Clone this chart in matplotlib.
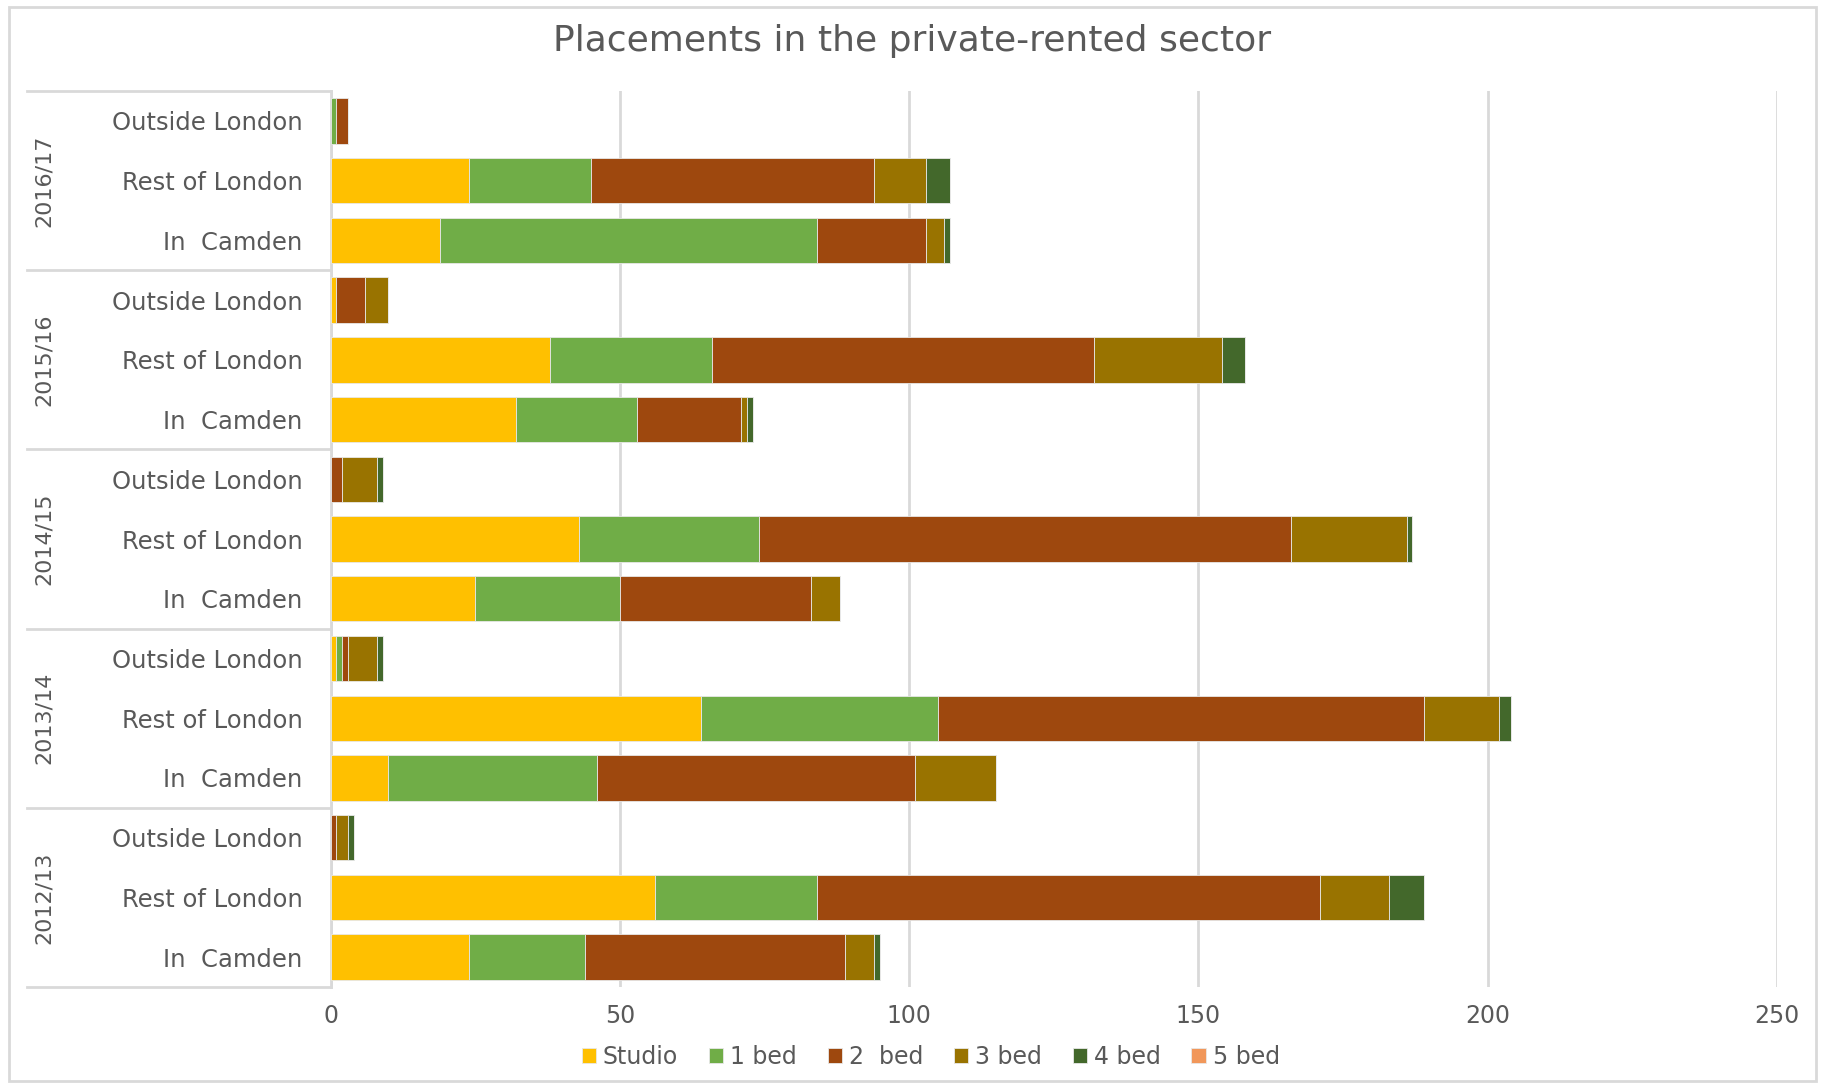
import matplotlib.pyplot as plt
import numpy as np
from matplotlib.patches import Rectangle

# rows from bottom to top
years = ["2012/13", "2013/14", "2014/15", "2015/16", "2016/17"]
places = ["In  Camden", "Rest of London", "Outside London"]
bed_types = ["Studio", "1 bed", "2  bed", "3 bed", "4 bed", "5 bed"]
colors = ["#FFC000", "#70AD47", "#9E480E", "#997300", "#43682B", "#F1975A"]

# each list: In Camden, Rest of London, Outside London per year, oldest first
studio = [24, 56, 0,   10, 64, 1,   25, 43, 0,   32, 38, 1,   19, 24, 0]
bed1 =   [20, 28, 0,   36, 41, 1,   25, 31, 0,   21, 28, 0,   65, 21, 1]
bed2 =   [45, 87, 1,   55, 84, 1,   33, 92, 2,   18, 66, 5,   19, 49, 2]
bed3 =   [5, 12, 2,    14, 13, 5,   5, 20, 6,    1, 22, 4,    3, 9, 0]
bed4 =   [1, 6, 1,     0, 2, 1,     0, 1, 1,     1, 4, 0,     1, 4, 0]
bed5 =   [0, 0, 0,     0, 0, 0,     0, 0, 0,     0, 0, 0,     0, 0, 0]

series = [studio, bed1, bed2, bed3, bed4, bed5]
text_color = "#595959"
grid_color = "#D9D9D9"

fig = plt.figure(figsize=(18.25, 10.85), dpi=100)
ax = fig.add_axes([0.1811, 0.0903, 0.7926, 0.8258])

y = np.arange(len(studio))
left = np.zeros(len(studio))
for vals, col, name in zip(series, colors, bed_types):
    ax.barh(y, vals, left=left, height=0.76, color=col, label=name,
            edgecolor="#E8E8E8", linewidth=0.6, zorder=3)
    left += np.array(vals)

ax.set_xlim(0, 250)
ax.set_ylim(-0.5, len(studio) - 0.5)
ax.set_xticks(np.arange(0, 251, 50))
ax.grid(axis="x", color=grid_color, linewidth=2, zorder=0)
for s in ["top", "right", "bottom"]:
    ax.spines[s].set_visible(False)
ax.spines["left"].set_color(grid_color)
ax.spines["left"].set_linewidth(2)

ax.set_yticks(y)
ax.set_yticklabels(places * len(years))
ax.tick_params(axis="y", length=0, pad=20, labelsize=17.5, labelcolor=text_color)
ax.tick_params(axis="x", length=0, pad=12, labelsize=17, labelcolor=text_color)

# group separators and year labels
trans = ax.get_yaxis_transform()
for i in range(len(years) + 1):
    yy = i * 3 - 0.5
    ax.plot([-0.21, 0], [yy, yy], color=grid_color, linewidth=2,
            transform=trans, clip_on=False)
for i, yr in enumerate(years):
    ax.text(-0.198, i * 3 + 1, yr, rotation=90, ha="center", va="center",
            fontsize=16, color=text_color, transform=trans,
            family="Liberation Sans Narrow")

fig.text(0.5, 0.962, "Placements in the private-rented sector", ha="center",
         va="center", fontsize=26, color=text_color)

fig.legend(loc="center", bbox_to_anchor=(0.51, 0.026), ncol=6, frameon=False,
           fontsize=17, labelcolor=text_color, handlelength=0.6,
           handleheight=0.6, handletextpad=0.3, columnspacing=1.3)

fig.patches.append(Rectangle((0.005, 0.004), 0.99, 0.99, transform=fig.transFigure,
                             fill=False, edgecolor=grid_color, linewidth=2))

fig.savefig("out.png", dpi=100)
